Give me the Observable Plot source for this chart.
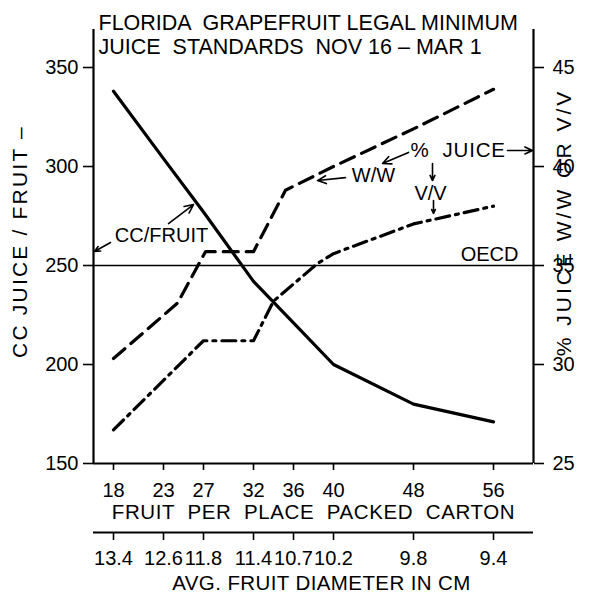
<!DOCTYPE html>
<html><head><meta charset="utf-8">
<script src="https://cdn.jsdelivr.net/npm/d3@7"></script>
<script src="https://cdn.jsdelivr.net/npm/@observablehq/plot@0.6"></script>
<style>
body{margin:0;background:#fff;}
#chart svg{display:block;}
#chart text{white-space:pre;}
</style></head><body><div id="chart"></div>
<script>
// ---- data ----
const counts = [18, 23, 27, 32, 36, 40, 48, 56];
const diameters = ["13.4", "12.6", "11.8", "11.4", "10.7", "10.2", "9.8", "9.4"];
const ccCounts = [18, 23, 27, 32, 36, 40, 48, 56];
const ccValues = [338, 304, 277, 242, 221, 200, 180, 171];
const wwCounts = [18, 24.4, 27.2, 32, 35.2, 40, 48, 56];
const wwPct = [30.3, 33.1, 35.7, 35.7, 38.8, 40.0, 41.9, 43.9];
const vvCounts = [18, 27, 32, 34, 38.4, 40, 48, 56];
const vvPct = [26.7, 31.2, 31.2, 33.2, 35.1, 35.6, 37.1, 38.0];
const ccTicks = [150, 200, 250, 300, 350];
const pctTicks = [25, 30, 35, 40, 45];
const oecdLevel = 250;
const titleText = "FLORIDA  GRAPEFRUIT LEGAL MINIMUM\nJUICE  STANDARDS  NOV 16 – MAR 1";
const leftLabel = "CC JUICE / FRUIT –";
const rightLabel = "% JUICE W/W OR V/V";
const xLabel = "FRUIT  PER  PLACE  PACKED  CARTON";
const xLabel2 = "AVG. FRUIT DIAMETER IN CM";
const centeredNotes = [
  {text: "CC/FRUIT", count: 22.8, cc: 265.2},
  {text: "W/W", count: 44.0, cc: 295.5},
  {text: "V/V", count: 49.7, cc: 286.4}
];
const startNotes = [{text: "%  JUICE", count: 47.7, cc: 308.1}];
const endNotes = [{text: "OECD", count: 58.5, cc: 255.3}];
const noteArrows = [
  {c1: 23.5, v1: 271.2, c2: 26.0, v2: 280.8},
  {c1: 17.7, v1: 261.6, c2: 16.1, v2: 257.1},
  {c1: 57.4, v1: 308.1, c2: 59.9, v2: 308.1},
  {c1: 47.5, v1: 307.1, c2: 44.9, v2: 301.5},
  {c1: 41.2, v1: 294.4, c2: 38.4, v2: 292.9},
  {c1: 49.9, v1: 301.5, c2: 49.9, v2: 292.9},
  {c1: 50.0, v1: 282.8, c2: 50.0, v2: 276.3}
];

// right axis (% juice) shares the left scale: 25% ↔ 150 cc, 45% ↔ 350 cc
const toCC = p => 150 + (p - 25) * 10;
const toPct = c => 25 + (c - 150) / 10;

const font = "'Liberation Sans', Arial, sans-serif";
const style = {fontFamily: font, fontSize: "20px", color: "#000", background: "#fff"};
const xDomain = [16, 60];

const main = Plot.plot({
  width: 600, height: 526,
  marginTop: 29, marginLeft: 93, marginRight: 67, marginBottom: 63,
  x: {domain: xDomain},
  y: {domain: [150, 369.2]},
  style,
  marks: [
    Plot.ruleY([oecdLevel], {stroke: "#000", strokeWidth: 1.6}),
    Plot.ruleX(xDomain, {stroke: "#000", strokeWidth: 2.2}),
    Plot.ruleY([150], {stroke: "#000", strokeWidth: 2.2}),
    Plot.axisY(ccTicks, {anchor: "left", tickSize: 10, tickPadding: 5, strokeWidth: 1.6, label: null}),
    Plot.axisY(pctTicks.map(toCC), {anchor: "right", tickSize: 10, tickPadding: 9, strokeWidth: 1.6,
      tickFormat: d => String(Math.round(toPct(d))), label: null}),
    Plot.axisX(counts, {anchor: "bottom", tickSize: 7, tickPadding: 12, strokeWidth: 1.6, label: null}),
    Plot.line(ccValues, {x: ccCounts, y: ccValues, stroke: "#000", strokeWidth: 3.2, strokeLinejoin: "round"}),
    Plot.line(wwPct, {x: wwCounts, y: wwPct.map(toCC), stroke: "#000", strokeWidth: 3.2, strokeDasharray: "15,8"}),
    Plot.line(vvPct, {x: vvCounts, y: vvPct.map(toCC), stroke: "#000", strokeWidth: 3.2, strokeDasharray: "14,6,3,6"}),
    Plot.arrow(noteArrows, {x1: "c1", y1: "v1", x2: "c2", y2: "v2", stroke: "#000", strokeWidth: 1.6, headLength: 9, headAngle: 50}),
    Plot.text(centeredNotes, {x: "count", y: "cc", text: "text", textAnchor: "middle", lineAnchor: "middle", fontSize: 20, fill: "#000"}),
    Plot.text(startNotes, {x: "count", y: "cc", text: "text", textAnchor: "start", lineAnchor: "middle", fontSize: 20.5, fill: "#000"}),
    Plot.text(endNotes, {x: "count", y: "cc", text: "text", textAnchor: "end", lineAnchor: "middle", fontSize: 20, fill: "#000"}),
    Plot.text([titleText], {frameAnchor: "top-left", dx: 5, dy: -16, lineAnchor: "top", textAnchor: "start", lineHeight: 1.1, fontSize: 21.5, fill: "#000"}),
    Plot.text([leftLabel], {frameAnchor: "left", dx: -73, dy: -5, rotate: -90, textAnchor: "middle", lineAnchor: "middle", fontSize: 21, fill: "#000"}),
    Plot.text([rightLabel], {frameAnchor: "right", dx: 31, dy: -24, rotate: -90, textAnchor: "middle", lineAnchor: "middle", fontSize: 21, fill: "#000"}),
    Plot.text([xLabel], {frameAnchor: "bottom", dy: 49, textAnchor: "middle", lineAnchor: "middle", fontSize: 20.5, fill: "#000"})
  ]
});

const sub = Plot.plot({
  width: 600, height: 68,
  marginTop: 6, marginBottom: 62, marginLeft: 93, marginRight: 67,
  x: {domain: xDomain},
  y: {domain: [0, 1]},
  style,
  marks: [
    Plot.ruleY([0], {stroke: "#000", strokeWidth: 2.2}),
    Plot.axisX(counts, {anchor: "bottom", tickSize: 8, tickPadding: 10, strokeWidth: 1.6, label: null,
      tickFormat: d => diameters[counts.indexOf(d)]}),
    Plot.text([xLabel2], {frameAnchor: "bottom", dx: 8, dy: 51, textAnchor: "middle", lineAnchor: "middle", fontSize: 20.5, fill: "#000"})
  ]
});

// letter tracking for the hand-lettered labels
function track(svg, content, spacing) {
  d3.select(svg).selectAll("text").filter(function () { return this.textContent === content; })
    .style("letter-spacing", spacing + "px");
}
track(main, leftLabel, 2.2);
track(main, rightLabel, 3);
track(main, xLabel, 0.6);
track(main, "%  JUICE", 0.8);
track(sub, xLabel2, 0.4);

document.getElementById("chart").append(main, sub);
</script>
</body></html>
